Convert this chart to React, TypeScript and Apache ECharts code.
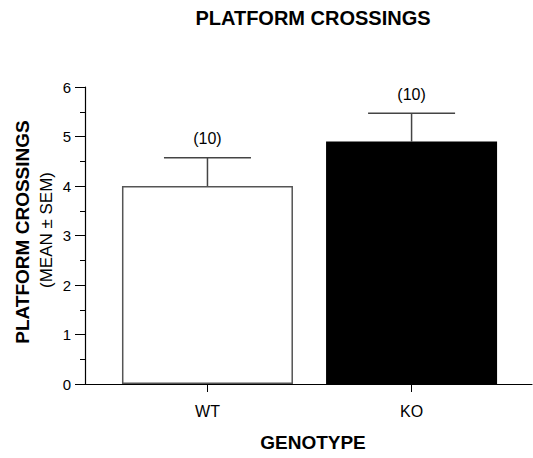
import React, { useEffect, useRef } from "react";
import * as echarts from "echarts";

const categories = ["WT", "KO"];
const positions = [1, 2];
const means = [4.0, 4.9];
const sems = [0.57, 0.57];
const groupSizes = ["(10)", "(10)"];
const barColors = ["#ffffff", "#000000"];
const barBorders = ["#555555", "#000000"];

const FONT = "Liberation Sans, Arial, Helvetica, sans-serif";

export default function App() {
  const ref = useRef<HTMLDivElement>(null);
  useEffect(() => {
    if (!ref.current) return;
    const chart = echarts.init(ref.current, undefined, { renderer: "svg" });
    const barData = positions.map((p, i) => ({
      value: [p, means[i]],
      itemStyle: { color: barColors[i], borderColor: barBorders[i], borderWidth: 1.5 },
    }));
    const errData = positions.map((p, i) => [p, means[i], means[i] + sems[i], i]);
    chart.setOption({
      animation: false,
      backgroundColor: "#ffffff",
      title: {
        text: "PLATFORM CROSSINGS",
        left: 308,
        top: 3,
        textAlign: "center",
        textStyle: { fontFamily: FONT, fontSize: 20, fontWeight: "bold", color: "#000" },
      },
      grid: { left: 85, right: 1, top: 87, bottom: 74, containLabel: false },
      xAxis: {
        type: "value",
        min: 0.4,
        max: 2.59,
        name: "GENOTYPE",
        nameLocation: "middle",
        nameGap: 49,
        nameTextStyle: { fontFamily: FONT, fontSize: 19, fontWeight: "bold", color: "#000", padding: [0, 0, 0, 9] },
        axisLine: { show: true, onZero: false, lineStyle: { color: "#000", width: 1.2 } },
        axisTick: { show: true, length: 8, customValues: positions, lineStyle: { color: "#000" } },
        axisLabel: {
          show: true,
          customValues: positions,
          margin: 19,
          fontFamily: FONT,
          fontSize: 16,
          color: "#000",
          formatter: (v: number) => categories[Math.round(v) - 1] ?? "",
        },
        splitLine: { show: false },
      },
      yAxis: {
        type: "value",
        min: 0,
        max: 6,
        interval: 1,
        axisLine: { show: true, lineStyle: { color: "#000", width: 1.2 } },
        axisTick: { show: true, length: 10, lineStyle: { color: "#000" } },
        minorTick: { show: true, splitNumber: 2, length: 5, lineStyle: { color: "#000" } },
        axisLabel: { margin: 14, fontFamily: FONT, fontSize: 15, color: "#000" },
        splitLine: { show: false },
      },
      graphic: [
        {
          type: "text",
          x: 22,
          y: 232,
          rotation: Math.PI / 2,
          style: {
            text: "PLATFORM CROSSINGS",
            textAlign: "center",
            textVerticalAlign: "middle",
            font: `bold 19px ${FONT}`,
            fill: "#000",
          },
        },
        {
          type: "text",
          x: 46,
          y: 230,
          rotation: Math.PI / 2,
          style: {
            text: "(MEAN ± SEM)",
            textAlign: "center",
            textVerticalAlign: "middle",
            font: `17px ${FONT}`,
            fill: "#000",
          },
        },
      ],
      series: [
        {
          type: "bar",
          data: barData,
          barWidth: 171,
        },
        {
          type: "custom",
          data: errData,
          z: 1,
          renderItem: (params: any, api: any) => {
            const x = api.value(0);
            const base = api.coord([x, api.value(1)]);
            const top = api.coord([x, api.value(2)]);
            const idx = api.value(3);
            const half = 43.5;
            const stroke = { stroke: "#444", lineWidth: 1.5 };
            return {
              type: "group",
              children: [
                { type: "line", shape: { x1: base[0], y1: base[1], x2: top[0], y2: top[1] }, style: stroke },
                { type: "line", shape: { x1: top[0] - half, y1: top[1], x2: top[0] + half, y2: top[1] }, style: stroke },
                {
                  type: "text",
                  x: top[0],
                  y: top[1] - 19,
                  style: {
                    text: groupSizes[idx],
                    textAlign: "center",
                    textVerticalAlign: "middle",
                    font: `16px ${FONT}`,
                    fill: "#000",
                  },
                },
              ],
            };
          },
        },
      ],
    });
    return () => chart.dispose();
  }, []);
  return <div ref={ref} style={{ position: "fixed", left: 0, top: 0, width: 533, height: 458 }} />;
}
